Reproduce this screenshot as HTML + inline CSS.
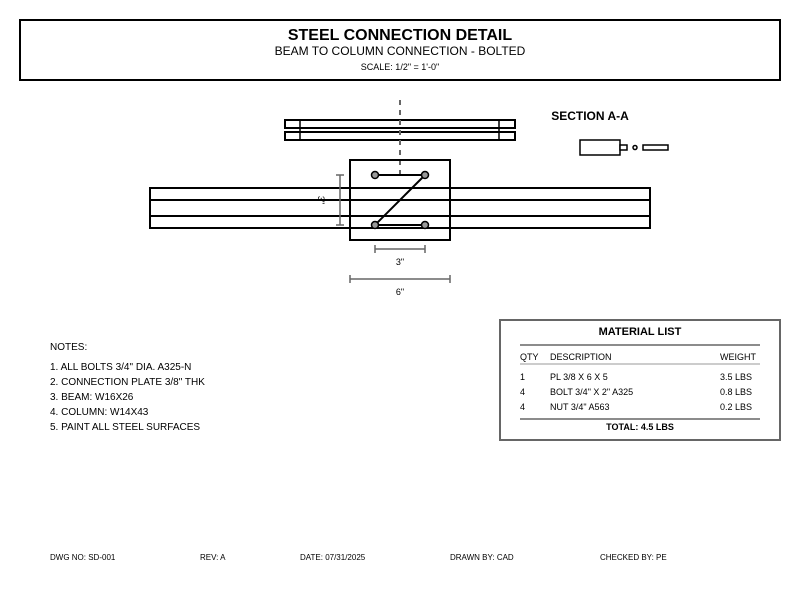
<!DOCTYPE html>
<html><head><style>body{margin:0;background:#fff}svg{display:block}text{font-family:"Liberation Sans",Arial,sans-serif}</style></head><body>
<svg width="800" height="600" viewBox="0 0 800 600" xmlns="http://www.w3.org/2000/svg">
<rect x="20" y="20" width="760" height="60" fill="none" stroke="#000" stroke-width="2"/>
<text x="400" y="40" font-size="16" font-weight="bold" text-anchor="middle">STEEL CONNECTION DETAIL</text>
<text x="400" y="55" font-size="12" text-anchor="middle">BEAM TO COLUMN CONNECTION - BOLTED</text>
<text x="400" y="70" font-size="9" text-anchor="middle">SCALE: 1/2" = 1'-0"</text>
<line x1="400" y1="100" x2="400" y2="178" stroke="#666" stroke-width="2" stroke-dasharray="5,5"/>
<g fill="#fff" stroke="#000" stroke-width="2">
<rect x="285" y="120" width="230" height="8"/>
<rect x="285" y="132" width="230" height="8"/>
</g>
<g stroke="#000" stroke-width="1.5"><line x1="300" y1="120" x2="300" y2="140"/><line x1="499" y1="120" x2="499" y2="140"/></g>
<line x1="400" y1="100" x2="400" y2="178" stroke="#666" stroke-width="2" stroke-dasharray="5,5"/>
<rect x="350" y="160" width="100" height="80" fill="none" stroke="#000" stroke-width="2"/>
<g fill="none" stroke="#000" stroke-width="2">
<rect x="150" y="188" width="500" height="40"/>
<line x1="150" y1="200" x2="650" y2="200"/><line x1="150" y1="216" x2="650" y2="216"/>
</g>
<g stroke="#000" stroke-width="2"><line x1="375" y1="175" x2="425" y2="175"/><line x1="375" y1="225" x2="425" y2="225"/><line x1="425" y1="175" x2="375" y2="225"/></g>
<g fill="#999" stroke="#000" stroke-width="1.5"><circle cx="375" cy="175" r="3.5"/><circle cx="425" cy="175" r="3.5"/><circle cx="375" cy="225" r="3.5"/><circle cx="425" cy="225" r="3.5"/></g>
<g stroke="#666" stroke-width="1.5">
<line x1="340" y1="175" x2="340" y2="225"/><line x1="336" y1="175" x2="344" y2="175"/><line x1="336" y1="225" x2="344" y2="225"/>
<line x1="375" y1="249" x2="425" y2="249"/><line x1="375" y1="245" x2="375" y2="253"/><line x1="425" y1="245" x2="425" y2="253"/>
<line x1="350" y1="279" x2="450" y2="279"/><line x1="350" y1="275" x2="350" y2="283"/><line x1="450" y1="275" x2="450" y2="283"/>
</g>
<text x="0" y="0" font-size="9" text-anchor="middle" transform="translate(318,200) rotate(90)">3"</text>
<text x="400" y="265" font-size="9" text-anchor="middle">3"</text>
<text x="400" y="295" font-size="9" text-anchor="middle">6"</text>
<text x="590" y="120" font-size="12" font-weight="bold" text-anchor="middle">SECTION A-A</text>
<g fill="#fff" stroke="#000" stroke-width="1.5"><rect x="580" y="140" width="40" height="15"/><rect x="620" y="145" width="7" height="5"/><circle cx="635" cy="147.5" r="2"/><rect x="643" y="145" width="25" height="5"/></g>
<text x="50" y="350" font-size="10">NOTES:</text>
<g font-size="10"><text x="50" y="370">1. ALL BOLTS 3/4" DIA. A325-N</text><text x="50" y="385">2. CONNECTION PLATE 3/8" THK</text><text x="50" y="400">3. BEAM: W16X26</text><text x="50" y="415">4. COLUMN: W14X43</text><text x="50" y="430">5. PAINT ALL STEEL SURFACES</text></g>
<rect x="500" y="320" width="280" height="120" fill="#fff" stroke="#666" stroke-width="2"/>
<text x="640" y="335" font-size="11" font-weight="bold" text-anchor="middle">MATERIAL LIST</text>
<line x1="520" y1="345" x2="760" y2="345" stroke="#666" stroke-width="1.5"/>
<g font-size="9"><text x="520" y="360">QTY</text><text x="550" y="360">DESCRIPTION</text><text x="720" y="360">WEIGHT</text></g>
<line x1="520" y1="364" x2="760" y2="364" stroke="#bbb" stroke-width="1.5"/>
<g font-size="9"><text x="520" y="380">1</text><text x="550" y="380">PL 3/8 X 6 X 5</text><text x="720" y="380">3.5 LBS</text>
<text x="520" y="395">4</text><text x="550" y="395">BOLT 3/4" X 2" A325</text><text x="720" y="395">0.8 LBS</text>
<text x="520" y="410">4</text><text x="550" y="410">NUT 3/4" A563</text><text x="720" y="410">0.2 LBS</text></g>
<line x1="520" y1="419" x2="760" y2="419" stroke="#666" stroke-width="1.5"/>
<text x="640" y="430" font-size="9" font-weight="bold" text-anchor="middle">TOTAL: 4.5 LBS</text>
<g font-size="8"><text x="50" y="560">DWG NO: SD-001</text><text x="200" y="560">REV: A</text><text x="300" y="560">DATE: 07/31/2025</text><text x="450" y="560">DRAWN BY: CAD</text><text x="600" y="560">CHECKED BY: PE</text></g>
</svg>
</body></html>
